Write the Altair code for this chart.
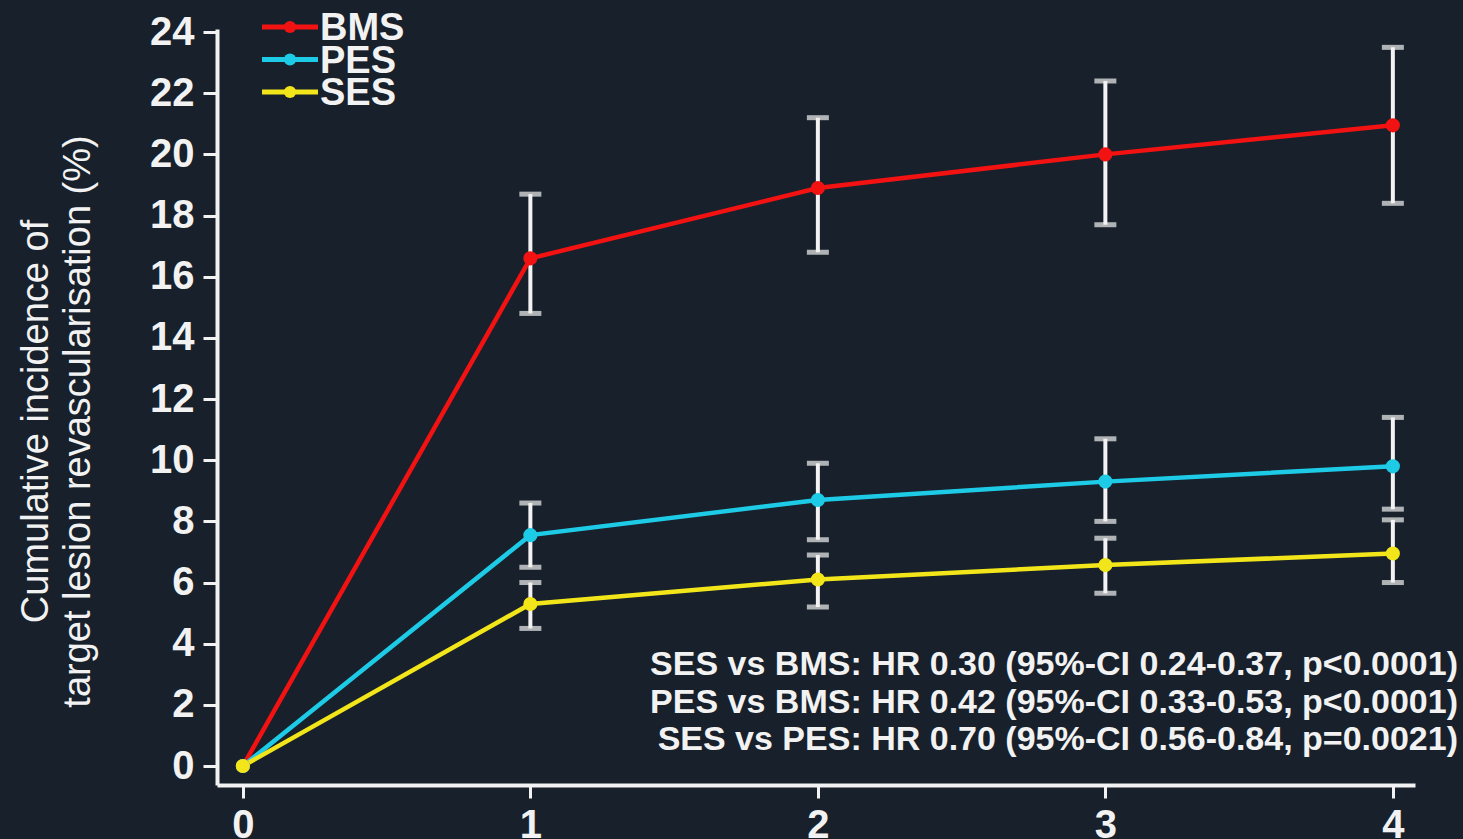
import altair as alt
import pandas as pd

years = [0, 1, 2, 3, 4]
series = ["BMS", "PES", "SES"]
colors = ["#f21212", "#1ecbe6", "#f2e61a"]

bms = [0, 16.6, 18.9, 20.0, 20.95]
bms_lo = [None, 14.8, 16.8, 17.7, 18.4]
bms_hi = [None, 18.7, 21.2, 22.4, 23.5]

pes = [0, 7.55, 8.7, 9.3, 9.8]
pes_lo = [None, 6.5, 7.4, 8.0, 8.4]
pes_hi = [None, 8.6, 9.9, 10.7, 11.4]

ses = [0, 5.3, 6.1, 6.57, 6.95]
ses_lo = [None, 4.5, 5.2, 5.65, 6.0]
ses_hi = [None, 6.0, 6.9, 7.45, 8.05]

y_ticks = [0, 2, 4, 6, 8, 10, 12, 14, 16, 18, 20, 22, 24]
x_ticks = [0, 1, 2, 3, 4]

y_title = ["Cumulative incidence of", "target lesion revascularisation (%)"]
notes = [
    "SES vs BMS: HR 0.30 (95%-CI 0.24-0.37, p<0.0001)",
    "PES vs BMS: HR 0.42 (95%-CI 0.33-0.53, p<0.0001)",
    "SES vs PES: HR 0.70 (95%-CI 0.56-0.84, p=0.0021)",
]

rows = []
for name, v, lo, hi in [("BMS", bms, bms_lo, bms_hi), ("PES", pes, pes_lo, pes_hi), ("SES", ses, ses_lo, ses_hi)]:
    for i, yr in enumerate(years):
        rows.append({"year": yr, "group": name, "value": v[i], "lo": lo[i], "hi": hi[i]})
df = pd.DataFrame(rows)
leg_df = pd.DataFrame({"group": series})

FONT = "Liberation Sans"
BG = "#17202b"
WHITE = "#f2f2f2"

xscale = alt.Scale(domain=[-0.09, 4.077], nice=False, zero=False)
yscale = alt.Scale(domain=[-0.62, 24.1], nice=False, zero=False)
cscale = alt.Scale(domain=series, range=colors)
color = alt.Color("group:N", scale=cscale, legend=None)

xenc = alt.X("year:Q", scale=xscale, axis=alt.Axis(
    values=x_ticks, format="d", title=None, grid=False,
    domainColor=WHITE, domainWidth=4, tickColor=WHITE, tickWidth=3, tickSize=13,
    labelColor=WHITE, labelFont=FONT, labelFontSize=40, labelFontWeight="bold",
    labelPadding=7, labelFlush=False))
yenc = alt.Y("value:Q", scale=yscale, axis=alt.Axis(
    values=y_ticks, format="d", title=y_title, grid=False,
    domainColor=WHITE, domainWidth=4, tickColor=WHITE, tickWidth=3, tickSize=14,
    labelColor=WHITE, labelFont=FONT, labelFontSize=40, labelFontWeight="bold",
    labelPadding=9, labelFlush=False,
    titleColor=WHITE, titleFont=FONT, titleFontSize=38, titleFontWeight="normal",
    titleAngle=270, titleLineHeight=42, titleX=-200, titleY=392,
    titleBaseline="top", titleAlign="center"))

base = alt.Chart(df)
err = base.transform_filter("datum.lo != null")

bars = err.mark_rule(color=WHITE, strokeWidth=4).encode(
    x=alt.X("year:Q", scale=xscale), y=alt.Y("lo:Q", scale=yscale), y2="hi:Q")
cap_lo = err.mark_tick(color=WHITE, orient="horizontal", size=22, thickness=5).encode(
    x=alt.X("year:Q", scale=xscale), y=alt.Y("lo:Q", scale=yscale))
cap_hi = err.mark_tick(color=WHITE, orient="horizontal", size=22, thickness=5).encode(
    x=alt.X("year:Q", scale=xscale), y=alt.Y("hi:Q", scale=yscale))

lines = base.mark_line(strokeWidth=4.5).encode(
    x=xenc, y=yenc, color=color, order="year:Q", detail="group:N")
points = base.mark_circle(size=200, opacity=1).encode(
    x=alt.X("year:Q", scale=xscale), y=alt.Y("value:Q", scale=yscale), color=color)

note = alt.Chart(pd.DataFrame({"t": [notes]})).mark_text(
    align="right", baseline="top", font=FONT, fontSize=34, fontWeight="bold",
    color=WHITE, lineHeight=37.5).encode(
    x=alt.value(1241), y=alt.value(619), text="t")

main = alt.layer(bars, cap_lo, cap_hi, lines, points, note)

# hand-built legend: rows placed by a point scale
leg_y = alt.Y("group:N", scale=alt.Scale(type="point", domain=series, range=[-2, 63], padding=0), axis=None)
leg_base = alt.Chart(leg_df)
leg_line = leg_base.mark_rule(strokeWidth=5).encode(
    x=alt.value(45), x2=alt.value(101), y=leg_y, color=color)
leg_dot = leg_base.mark_circle(size=150, opacity=1).encode(
    x=alt.value(73), y=leg_y, color=color)
leg_text = leg_base.mark_text(align="left", baseline="middle", font=FONT, fontSize=38,
                              fontWeight="bold", color=WHITE, dy=2).encode(
    x=alt.value(103), y=leg_y, text="group:N")
legend = alt.layer(leg_line, leg_dot, leg_text)

chart = alt.layer(main, legend).resolve_scale(y="independent").properties(
    width=1198, height=756,
    autosize=alt.AutoSizeParams(type="none"),
    padding={"left": 217, "top": 29, "right": 48, "bottom": 54},
    background=BG,
).configure_view(stroke=None)

chart.save("out.html", embed_options={"renderer": "svg", "actions": False})
